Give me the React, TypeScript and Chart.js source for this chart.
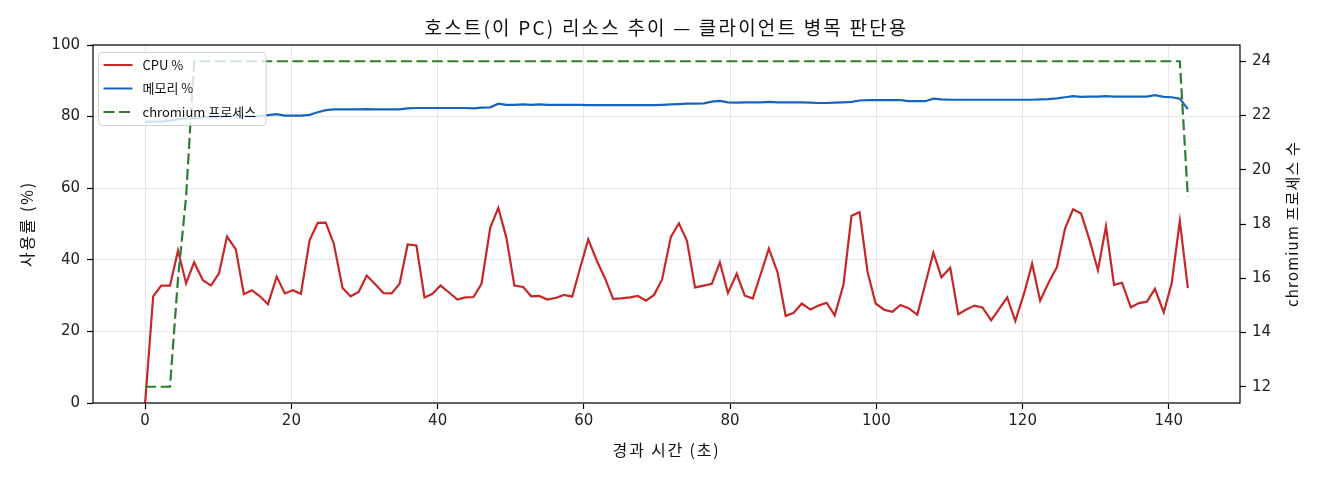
import { useEffect, useRef } from 'react';
import { Chart, registerables } from 'chart.js';

Chart.register(...registerables);

// elapsed seconds of each sample
const elapsedSec = [
  0, 1.1, 2.2, 3.4, 4.5, 5.6, 6.7, 7.9, 9.0, 10.1,
  11.2, 12.4, 13.5, 14.6, 15.7, 16.8, 18.0, 19.1, 20.2, 21.3,
  22.5, 23.6, 24.7, 25.8, 27.0, 28.1, 29.2, 30.3, 31.4, 32.6,
  33.7, 34.8, 35.9, 37.1, 38.2, 39.3, 40.4, 41.6, 42.7, 43.8,
  44.9, 46.0, 47.2, 48.3, 49.4, 50.5, 51.7, 52.8, 53.9, 55.0,
  56.2, 57.3, 58.4, 59.5, 60.6, 61.8, 62.9, 64.0, 65.1, 66.3,
  67.4, 68.5, 69.6, 70.7, 71.9, 73.0, 74.1, 75.2, 76.4, 77.5,
  78.6, 79.7, 80.9, 82.0, 83.1, 84.2, 85.3, 86.5, 87.6, 88.7,
  89.8, 91.0, 92.1, 93.2, 94.3, 95.5, 96.6, 97.7, 98.8, 99.9,
  101.1, 102.2, 103.3, 104.4, 105.6, 106.7, 107.8, 108.9, 110.1, 111.2,
  112.3, 113.4, 114.5, 115.7, 116.8, 117.9, 119.0, 120.2, 121.3, 122.4,
  123.5, 124.7, 125.8, 126.9, 128.0, 129.1, 130.3, 131.4, 132.5, 133.6,
  134.8, 135.9, 137.0, 138.1, 139.3, 140.4, 141.5, 142.6,
];

const cpuPct = [
  0, 29.8, 32.8, 32.8, 42.6, 33.4, 39.3, 34.3, 32.8, 36.2,
  46.5, 42.9, 30.4, 31.5, 29.8, 27.6, 35.3, 30.6, 31.5, 30.5,
  45.5, 50.3, 50.4, 44.5, 32.1, 29.8, 31.0, 35.6, 33.3, 30.7,
  30.6, 33.3, 44.3, 44.0, 29.5, 30.5, 32.8, 30.8, 28.9, 29.5,
  29.6, 33.3, 49.0, 54.5, 46.2, 32.8, 32.4, 29.8, 29.9, 28.9,
  29.4, 30.2, 29.7, 37.8, 45.7, 39.6, 34.8, 29.1, 29.2, 29.5,
  29.9, 28.6, 30.2, 34.5, 46.4, 50.2, 45.3, 32.3, 32.8, 33.3,
  39.3, 30.7, 36.1, 30.0, 29.2, 36.1, 43.1, 36.4, 24.3, 25.2,
  27.8, 26.1, 27.2, 28.0, 24.5, 33.0, 52.3, 53.3, 36.6, 27.8,
  26.0, 25.5, 27.4, 26.5, 24.7, 33.3, 42.0, 35.1, 37.8, 24.8,
  26.1, 27.2, 26.7, 23.1, 26.3, 29.5, 22.9, 30.6, 38.9, 28.6,
  33.4, 38.0, 48.7, 54.1, 52.9, 45.9, 37.1, 49.3, 33.0, 33.6,
  26.7, 27.9, 28.3, 31.9, 25.3, 33.6, 50.8, 32.1,
];

const memPct = [
  78.5, 78.6, 78.6, 78.8, 79.3, 79.5, 79.6, 79.8, 80.0, 80.1,
  80.1, 80.2, 80.2, 80.1, 80.1, 80.4, 80.7, 80.3, 80.3, 80.3,
  80.5, 81.2, 81.8, 82.0, 82.0, 82.0, 82.0, 82.1, 82.0, 82.0,
  82.0, 82.0, 82.3, 82.4, 82.4, 82.4, 82.4, 82.4, 82.4, 82.4,
  82.3, 82.5, 82.6, 83.6, 83.3, 83.3, 83.4, 83.3, 83.4, 83.3,
  83.3, 83.3, 83.3, 83.3, 83.2, 83.2, 83.2, 83.2, 83.2, 83.2,
  83.2, 83.2, 83.2, 83.3, 83.4, 83.5, 83.6, 83.6, 83.7, 84.2,
  84.4, 84.0, 83.9, 84.0, 84.0, 84.0, 84.1, 84.0, 84.0, 84.0,
  84.0, 83.9, 83.8, 83.8, 83.9, 84.0, 84.1, 84.5, 84.6, 84.6,
  84.6, 84.6, 84.6, 84.3, 84.3, 84.3, 85.0, 84.8, 84.7, 84.7,
  84.7, 84.7, 84.7, 84.7, 84.7, 84.7, 84.7, 84.7, 84.7, 84.8,
  84.9, 85.1, 85.4, 85.7, 85.5, 85.6, 85.6, 85.7, 85.6, 85.6,
  85.6, 85.6, 85.6, 86.0, 85.5, 85.4, 85.0, 82.1,
];

const chromiumProcs = [
  12, 12, 12, 12, 16, 19, 24, 24, 24, 24,
  24, 24, 24, 24, 24, 24, 24, 24, 24, 24,
  24, 24, 24, 24, 24, 24, 24, 24, 24, 24,
  24, 24, 24, 24, 24, 24, 24, 24, 24, 24,
  24, 24, 24, 24, 24, 24, 24, 24, 24, 24,
  24, 24, 24, 24, 24, 24, 24, 24, 24, 24,
  24, 24, 24, 24, 24, 24, 24, 24, 24, 24,
  24, 24, 24, 24, 24, 24, 24, 24, 24, 24,
  24, 24, 24, 24, 24, 24, 24, 24, 24, 24,
  24, 24, 24, 24, 24, 24, 24, 24, 24, 24,
  24, 24, 24, 24, 24, 24, 24, 24, 24, 24,
  24, 24, 24, 24, 24, 24, 24, 24, 24, 24,
  24, 24, 24, 24, 24, 24, 24, 19,
];

const xTicks = [0, 20, 40, 60, 80, 100, 120, 140];
const pctTicks = [0, 20, 40, 60, 80, 100];
const procTicks = [12, 14, 16, 18, 20, 22, 24];

const TITLE = '호스트(이 PC) 리소스 추이 — 클라이언트 병목 판단용';
const X_TITLE = '경과 시간 (초)';
const Y_TITLE = '사용률 (%)';
const Y2_TITLE = 'chromium 프로세스 수';

const KR = "'Noto Sans CJK KR', sans-serif";
const TICK_FONT = "'DejaVu Sans', 'Noto Sans CJK KR', sans-serif";

const CPU_COLOR = '#c62828';
const MEM_COLOR = '#1565c0';
const PROC_COLOR = '#2e7d32';
const DASH = [11, 4.5];

const legendItems = [
  { label: 'CPU %', color: CPU_COLOR, dash: [] as number[] },
  { label: '메모리 %', color: MEM_COLOR, dash: [] as number[] },
  { label: 'chromium 프로세스', color: PROC_COLOR, dash: DASH },
];

function drawText(ctx: CanvasRenderingContext2D, text: string, x: number, y: number, font: string, rot = 0, spacing = 0) {
  ctx.save();
  ctx.translate(x, y);
  ctx.rotate(rot);
  ctx.font = font;
  (ctx as any).letterSpacing = spacing + 'px';
  ctx.fillStyle = '#111';
  ctx.textAlign = 'center';
  ctx.textBaseline = 'middle';
  ctx.fillText(text, 0, 0);
  ctx.restore();
}

const overlay = {
  id: 'overlay',
  afterDatasetsDraw(chart: Chart) {
    const { ctx, chartArea: a } = chart;
    ctx.save();
    // frame
    ctx.strokeStyle = '#000';
    ctx.lineWidth = 1.2;
    ctx.strokeRect(a.left, a.top, a.right - a.left, a.bottom - a.top);

    // legend box, top-left inside the plot
    ctx.font = `13px ${KR}`;
    const textW = Math.max(...legendItems.map((it) => ctx.measureText(it.label).width));
    const bx = a.left + 5.5;
    const by = a.top + 7.5;
    const bw = 10 + 29 + 9 + textW + 6;
    const bh = 73;
    ctx.beginPath();
    ctx.roundRect(bx, by, bw, bh, 4);
    ctx.fillStyle = 'rgba(255,255,255,0.8)';
    ctx.fill();
    ctx.strokeStyle = 'rgba(204,204,204,0.9)';
    ctx.lineWidth = 1;
    ctx.stroke();
    legendItems.forEach((it, i) => {
      const cy = by + 12.5 + i * 23.5;
      ctx.beginPath();
      ctx.setLineDash(it.dash);
      ctx.strokeStyle = it.color;
      ctx.lineWidth = 2;
      ctx.moveTo(bx + 5, cy);
      ctx.lineTo(bx + 34, cy);
      ctx.stroke();
      ctx.setLineDash([]);
      ctx.fillStyle = '#111';
      ctx.textAlign = 'left';
      ctx.textBaseline = 'middle';
      ctx.fillText(it.label, bx + 44, cy);
    });
    ctx.restore();
  },
  afterDraw(chart: Chart) {
    const { ctx, chartArea: a } = chart;
    const cx = (a.left + a.right) / 2;
    const cy = (a.top + a.bottom) / 2;
    drawText(ctx, TITLE, cx, 28, `19px ${KR}`, 0, 2.2);
    drawText(ctx, X_TITLE, cx, 450, `16px ${KR}`, 0, 1.8);
    drawText(ctx, Y_TITLE, 27, cy, `16px ${KR}`, -Math.PI / 2, 1.8);
    drawText(ctx, Y2_TITLE, 1292, cy, `15px ${KR}`, -Math.PI / 2, 1.2);
  },
};

export default function App() {
  const canvasRef = useRef<HTMLCanvasElement>(null);
  const chartRef = useRef<Chart | null>(null);

  useEffect(() => {
    if (!canvasRef.current) return;
    if (chartRef.current) chartRef.current.destroy();

    const tickStyle = { font: { family: TICK_FONT, size: 15 }, color: '#222' };

    chartRef.current = new Chart(canvasRef.current, {
      type: 'line',
      data: {
        datasets: [
          {
            label: 'CPU %',
            data: elapsedSec.map((x, i) => ({ x, y: cpuPct[i] })),
            borderColor: CPU_COLOR,
            borderWidth: 2.2,
            pointRadius: 0,
            tension: 0,
            yAxisID: 'y',
            order: 2,
          },
          {
            label: '메모리 %',
            data: elapsedSec.map((x, i) => ({ x, y: memPct[i] })),
            borderColor: MEM_COLOR,
            borderWidth: 2.2,
            pointRadius: 0,
            tension: 0,
            yAxisID: 'y',
            order: 1,
          },
          {
            label: 'chromium 프로세스',
            data: elapsedSec.map((x, i) => ({ x, y: chromiumProcs[i] })),
            borderColor: PROC_COLOR,
            borderWidth: 2.2,
            borderDash: DASH,
            pointRadius: 0,
            tension: 0,
            yAxisID: 'y2',
            order: 0,
          },
        ],
      },
      options: {
        responsive: false,
        animation: false,
        layout: { padding: { top: 45, left: 0, right: 0, bottom: 0 } },
        plugins: {
          legend: { display: false },
          tooltip: { enabled: false },
          title: { display: false },
        },
        scales: {
          x: {
            type: 'linear',
            position: 'bottom',
            min: -7.13,
            max: 149.73,
            afterBuildTicks: (s: any) => { s.ticks = xTicks.map((v) => ({ value: v })); },
            afterFit: (s: any) => { s.height = 77; },
            grid: { color: '#e6e6e6', lineWidth: 1, tickColor: '#000', tickLength: 6, tickWidth: 1.2 },
            border: { display: false },
            ticks: { ...tickStyle, padding: 3, maxRotation: 0, autoSkip: false, callback: (v: any) => String(v) },
          },
          y: {
            type: 'linear',
            position: 'left',
            min: 0,
            max: 100,
            afterBuildTicks: (s: any) => { s.ticks = pctTicks.map((v) => ({ value: v })); },
            afterFit: (s: any) => { s.width = 93; },
            grid: { color: '#e6e6e6', lineWidth: 1, tickColor: '#000', tickLength: 6, tickWidth: 1.2 },
            border: { display: false },
            ticks: { ...tickStyle, padding: 7, callback: (v: any) => String(v) },
          },
          y2: {
            type: 'linear',
            position: 'right',
            min: 11.4,
            max: 24.6,
            afterBuildTicks: (s: any) => { s.ticks = procTicks.map((v) => ({ value: v })); },
            afterFit: (s: any) => { s.width = 80; },
            grid: { drawOnChartArea: false, tickColor: '#000', tickLength: 6, tickWidth: 1.2 },
            border: { display: false },
            ticks: { ...tickStyle, padding: 6, callback: (v: any) => String(v) },
          },
        },
      },
      plugins: [overlay],
    });

    return () => {
      if (chartRef.current) {
        chartRef.current.destroy();
        chartRef.current = null;
      }
    };
  }, []);

  return (
    <div style={{ position: 'fixed', left: 0, top: 0, width: 1320, height: 480, background: '#fff' }}>
      <canvas ref={canvasRef} width={1320} height={480} style={{ width: 1320, height: 480 }} />
    </div>
  );
}
